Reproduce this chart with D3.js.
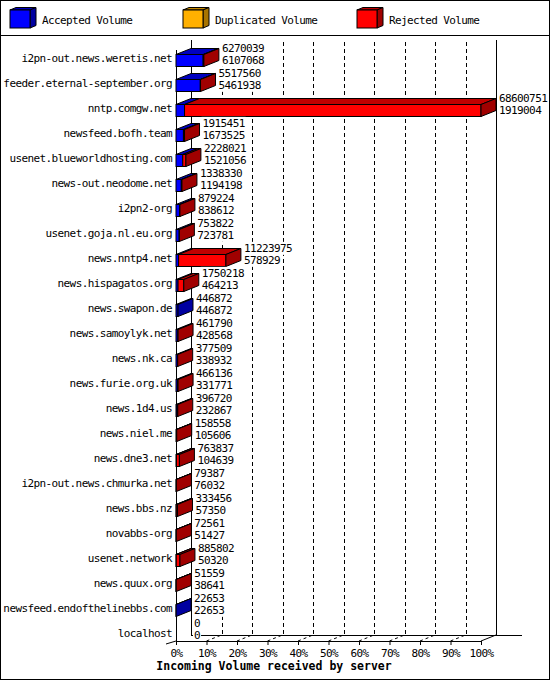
<!DOCTYPE html>
<html>
<head>
<meta charset="utf-8">
<script src="https://cdn.jsdelivr.net/npm/d3@7"></script>
<style>
  body { margin: 0; background: #fff; }
  svg text { font-family: "DejaVu Sans Mono", monospace; font-size: 11px; letter-spacing: -0.6px; fill: #000; }
  .title { font-weight: bold; font-size: 11.5px; letter-spacing: 0; }
</style>
</head>
<body>
<div id="chart"></div>
<script>
// incoming volume per feeding server
const hosts = [
  "i2pn-out.news.weretis.net", "feeder.eternal-september.org", "nntp.comgw.net",
  "newsfeed.bofh.team", "usenet.blueworldhosting.com", "news-out.neodome.net",
  "i2pn2-org", "usenet.goja.nl.eu.org", "news.nntp4.net", "news.hispagatos.org",
  "news.swapon.de", "news.samoylyk.net", "news.nk.ca", "news.furie.org.uk",
  "news.1d4.us", "news.niel.me", "news.dne3.net", "i2pn-out.news.chmurka.net",
  "news.bbs.nz", "novabbs-org", "usenet.network", "news.quux.org",
  "newsfeed.endofthelinebbs.com", "localhost"
];
const totalVolume = [
  6270039, 5517560, 68600751, 1915451, 2228021, 1338330, 879224, 753822,
  11223975, 1750218, 446872, 461790, 377509, 466136, 396720, 158558,
  763837, 79387, 333456, 72561, 885802, 51559, 22653, 0
];
const acceptedVolume = [
  6107068, 5461938, 1919004, 1673525, 1521056, 1194198, 838612, 723781,
  578929, 464213, 446872, 428568, 338932, 331771, 232867, 105606,
  104639, 76032, 57350, 51427, 50320, 38641, 22653, 0
];
const duplicatedVolume = [
  0, 0, 0, 0, 0, 0, 0, 0, 0, 0, 0, 0,
  0, 0, 0, 0, 0, 0, 0, 0, 0, 0, 0, 0
];
const seriesNames = ["Accepted Volume", "Duplicated Volume", "Rejected Volume"];
const pctTicks = [0, 10, 20, 30, 40, 50, 60, 70, 80, 90, 100];

const shades = [
  { front: "#0000ff", top: "#0000c0", side: "#0000a0" },
  { front: "#ffb000", top: "#c88a00", side: "#a87400" },
  { front: "#ff0000", top: "#c00000", side: "#a00000" }
];

const W = 550, H = 680;
const dx = 15, dy = 6;      // 3d depth
const barH = 12;
const floorY = 641;

const svg = d3.select("#chart").append("svg")
  .attr("width", W).attr("height", H);

// frame + legend separator
svg.append("rect").attr("x", 0.5).attr("y", 0.5)
  .attr("width", W - 1).attr("height", H - 1)
  .attr("fill", "#fff").attr("stroke", "#000");
svg.append("line").attr("x1", 0).attr("x2", W)
  .attr("y1", 35.5).attr("y2", 35.5).attr("stroke", "#000");

// legend
const legendX = [10, 183, 357];
seriesNames.forEach((name, i) => {
  const g = svg.append("g").attr("transform", `translate(${legendX[i]},10)`);
  const w = 20, h = 18, ldx = 6, ldy = 2.5;
  g.append("polygon")
    .attr("points", [[0, 0], [ldx, -ldy], [w + ldx, -ldy], [w, 0]].join(" "))
    .attr("fill", shades[i].top).attr("stroke", "#000");
  g.append("polygon")
    .attr("points", [[w, 0], [w + ldx, -ldy], [w + ldx, h - ldy], [w, h]].join(" "))
    .attr("fill", shades[i].side).attr("stroke", "#000");
  g.append("rect").attr("width", w).attr("height", h)
    .attr("fill", shades[i].front).attr("stroke", "#000");
  g.append("text").attr("x", 32).attr("y", 13.5).text(name);
});

// scales
const maxTotal = d3.max(totalVolume);
const x = d3.scaleLinear().domain([0, maxTotal]).range([176, 481]);
const pct = d3.scaleLinear().domain([0, 100]).range([176, 481]);
const y = d3.scaleBand().domain(hosts).range([47, 647]);

const x0 = x(0);
const topY = 40;

// back wall + floor outline
const wall = svg.append("g").attr("stroke", "#000").attr("fill", "none");
wall.append("line").attr("x1", x0 + dx + 0.5).attr("x2", x0 + dx + 0.5)
  .attr("y1", topY).attr("y2", floorY - dy);
wall.append("line").attr("x1", pct(100) + dx + 0.5).attr("x2", pct(100) + dx + 0.5)
  .attr("y1", topY).attr("y2", floorY - dy);
wall.append("line").attr("x1", x0 + dx).attr("x2", 522)
  .attr("y1", floorY - dy + 0.5).attr("y2", floorY - dy + 0.5);
wall.append("line").attr("x1", x0 + 0.5).attr("x2", x0 + 0.5)
  .attr("y1", 50).attr("y2", floorY);
wall.append("line").attr("x1", pct(100)).attr("y1", floorY)
  .attr("x2", pct(100) + dx).attr("y2", floorY - dy);
wall.append("line").attr("x1", 166).attr("y1", floorY + 3)
  .attr("x2", x0).attr("y2", floorY);

// dashed grid on the back wall
wall.selectAll(".grid").data(pctTicks.slice(1, -1)).join("line")
  .attr("class", "grid")
  .attr("x1", d => Math.round(pct(d) + dx) + 0.5)
  .attr("x2", d => Math.round(pct(d) + dx) + 0.5)
  .attr("y1", topY + 2).attr("y2", floorY - dy)
  .attr("stroke-dasharray", "4,3");

// floor ticks
wall.selectAll(".ftick").data(pctTicks.slice(1, -1)).join("line")
  .attr("class", "ftick")
  .attr("x1", d => pct(d)).attr("y1", floorY)
  .attr("x2", d => pct(d) + dx).attr("y2", floorY - dy)
  .attr("stroke-dasharray", "3,3");

// bars: accepted, duplicated, rejected stacked
const rows = hosts.map((h, i) => {
  const acc = acceptedVolume[i], dup = duplicatedVolume[i];
  const rej = totalVolume[i] - acc - dup;
  return { host: h, total: totalVolume[i], accepted: acc, parts: [acc, dup, rej] };
});

const bars = svg.append("g").attr("stroke", "#000").attr("stroke-linejoin", "miter");
rows.forEach(r => {
  if (r.total <= 0) return;
  const yc = y(r.host) + y.bandwidth() / 2;
  const y0 = Math.round(yc - barH / 2) + 0.5, y1 = y0 + barH;
  let start = 0, last = 0;
  r.parts.forEach((v, k) => {
    if (v <= 0) return;
    const a = x(start), b = x(start + v);
    bars.append("polygon")
      .attr("points", [[a, y0], [a + dx, y0 - dy], [b + dx, y0 - dy], [b, y0]].join(" "))
      .attr("fill", shades[k].top);
    bars.append("rect").attr("x", a).attr("y", y0)
      .attr("width", b - a).attr("height", barH)
      .attr("fill", shades[k].front);
    start += v;
    last = k;
  });
  const e = x(r.total);
  bars.append("polygon")
    .attr("points", [[e, y0], [e + dx, y0 - dy], [e + dx, y1 - dy], [e, y1]].join(" "))
    .attr("fill", shades[last].side);
});

// value labels (total on top, accepted below), they blank the grid behind them
const labels = svg.append("g");
rows.forEach(r => {
  const yc = y(r.host) + y.bandwidth() / 2;
  const lx = x(r.total) + dx + 3;
  [[yc - 11.5, r.total], [yc + 0.5, r.accepted]].forEach(([ly, v]) => {
    const t = labels.append("text").attr("x", lx).attr("y", ly)
      .attr("dy", "0.35em").text(v);
    const bb = t.node().getBBox();
    labels.insert("rect", () => t.node())
      .attr("x", bb.x - 1).attr("y", bb.y)
      .attr("width", bb.width + 2).attr("height", bb.height)
      .attr("fill", "#fff");
  });
});

// host axis
const yAxis = svg.append("g").attr("transform", `translate(${x0},-1)`)
  .call(d3.axisLeft(y).tickSize(0).tickPadding(4));
yAxis.select(".domain").remove();
yAxis.selectAll("text").attr("font-family", null).attr("font-size", null);

// percent axis
const xAxis = svg.append("g").attr("transform", `translate(0,${floorY})`)
  .call(d3.axisBottom(pct).tickValues(pctTicks).tickSize(4).tickSizeOuter(0)
    .tickPadding(4).tickFormat(d => d + "%"));
xAxis.selectAll("text").attr("font-family", null).attr("font-size", null);
xAxis.selectAll("line, path").attr("stroke", "#000");

svg.append("text").attr("class", "title")
  .attr("x", 274).attr("y", 670).attr("text-anchor", "middle")
  .text("Incoming Volume received by server");
</script>
</body>
</html>
